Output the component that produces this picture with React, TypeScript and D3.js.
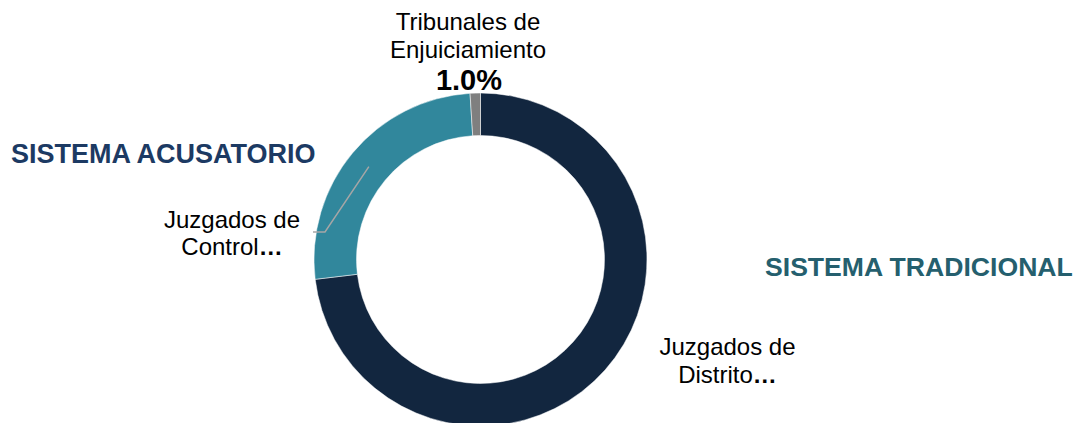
import React from "react";
import * as d3 from "d3";

const categories = ["Juzgados de Distrito", "Juzgados de Control", "Tribunales de Enjuiciamiento"];
const values = [73.1, 25.9, 1.0];
const colors = ["#12263F", "#31879C", "#7F7F7F"];
const groupTitles = ["SISTEMA ACUSATORIO", "SISTEMA TRADICIONAL"];

const W = 1078;
const H = 423;
const cx = 480.5;
const cy = 259.5;
const outerR = 166.5;
const innerR = 124;

export default function App() {
  const pie = d3.pie<number>().sort(null).value((d) => d);
  const arcs = pie(values);
  const arc = d3.arc<d3.PieArcDatum<number>>().innerRadius(innerR).outerRadius(outerR);
  const font = "'Liberation Sans', Arial, sans-serif";
  const fmt = d3.format(".1f");

  // Leader line for Juzgados de Control
  const ctrlArc = arcs[1];
  const mid = (ctrlArc.startAngle + ctrlArc.endAngle) / 2;
  const lr = (outerR + innerR) / 2;
  const p0: [number, number] = [cx + Math.sin(mid) * lr, cy - Math.cos(mid) * lr];

  return (
    <div style={{ position: "fixed", left: 0, top: 0 }}>
      <svg width={W} height={H} style={{ display: "block" }}>
        <rect width={W} height={H} fill="#ffffff" />
        <g transform={`translate(${cx},${cy})`}>
          {arcs.map((a, i) => (
            <path key={i} d={arc(a) || ""} fill={colors[i]} stroke="#ffffff" strokeWidth={0.5} />
          ))}
        </g>
        <polyline
          points={`${p0[0]},${p0[1]} 325,232 313,232`}
          fill="none"
          stroke="#A6A6A6"
          strokeWidth={1.5}
        />
        {/* Tribunales de Enjuiciamiento */}
        <text x={468} y={30} textAnchor="middle" fontFamily={font} fontSize={24} fill="#000">
          Tribunales de
        </text>
        <text x={468} y={58} textAnchor="middle" fontFamily={font} fontSize={24} fill="#000">
          Enjuiciamiento
        </text>
        <text x={469} y={90} textAnchor="middle" fontFamily={font} fontSize={29} fontWeight="bold" fill="#000">
          {fmt(values[2])}%
        </text>
        {/* Juzgados de Control */}
        <text x={232} y={228} textAnchor="middle" fontFamily={font} fontSize={24} fill="#000">
          Juzgados de
        </text>
        <text x={232} y={255} textAnchor="middle" fontFamily={font} fontSize={24} fill="#000">
          Control<tspan fontWeight="bold">…</tspan>
        </text>
        {/* Juzgados de Distrito */}
        <text x={727.5} y={355} textAnchor="middle" fontFamily={font} fontSize={24} fill="#000">
          Juzgados de
        </text>
        <text x={727.5} y={383} textAnchor="middle" fontFamily={font} fontSize={24} fill="#000">
          Distrito<tspan fontWeight="bold">…</tspan>
        </text>
        {/* Group titles */}
        <text x={11} y={163} fontFamily={font} fontSize={27} fontWeight="bold" fill="#1C3A63">
          {groupTitles[0]}
        </text>
        <text x={765} y={276} fontFamily={font} fontSize={26.6} fontWeight="bold" fill="#255F6E">
          {groupTitles[1]}
        </text>
      </svg>
    </div>
  );
}
